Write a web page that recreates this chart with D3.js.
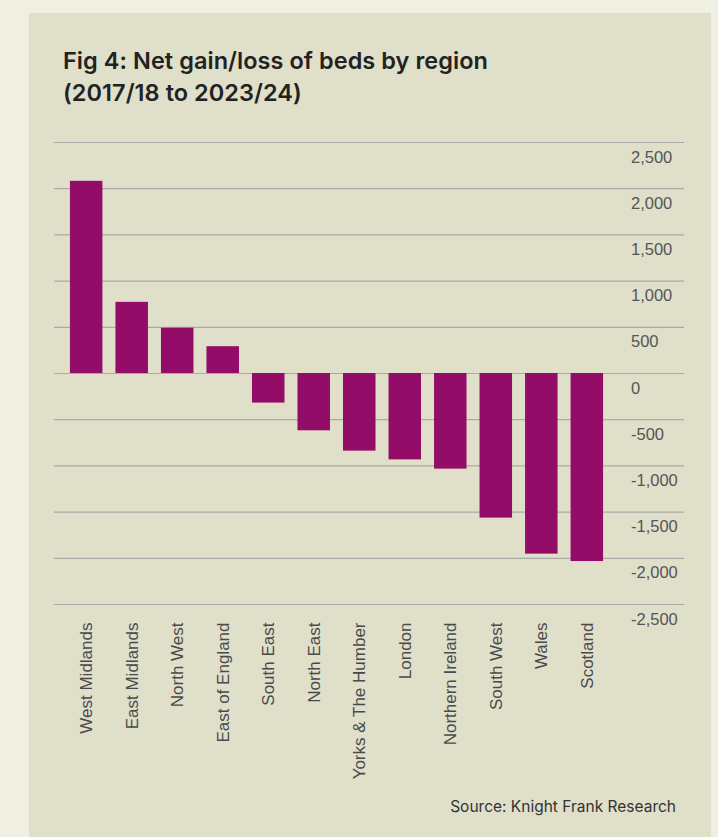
<!DOCTYPE html>
<html>
<head>
<meta charset="utf-8">
<script src="https://cdn.jsdelivr.net/npm/d3@7"></script>
<style>
	html, body { margin: 0; padding: 0; background: #f0f0e2; }
	svg { display: block; }
</style>
</head>
<body>
<div id="chart"></div>
<script>
// regions, sorted as in the source figure
var regions = ["West Midlands", "East Midlands", "North West", "East of England",
	"South East", "North East", "Yorks & The Humber", "London",
	"Northern Ireland", "South West", "Wales", "Scotland"];

// net gain/loss of beds, 2017/18 to 2023/24
var netBeds = [2080, 770, 490, 290, -320, -620, -840, -935, -1035, -1565, -1955, -2035];

var yTicks = [2500, 2000, 1500, 1000, 500, 0, -500, -1000, -1500, -2000, -2500];

var titleLines = ["Fig 4: Net gain/loss of beds by region", "(2017/18 to 2023/24)"];
var sourceText = "Source: Knight Frank Research";

var width = 718,
	height = 837;

var panel = { left: 29, top: 13, right: 711 };

var barColor = "#920c68",
	gridColor = "#a9aba6",
	tickColor = "#555555",
	labelColor = "#4a4a4a";

var data = regions.map(function(r, i) {
	return { region: r, value: netBeds[i] };
});

var svg = d3.select("#chart").append("svg")
	.attr("width", width)
	.attr("height", height);

svg.append("rect")
	.attr("x", panel.left)
	.attr("y", panel.top)
	.attr("width", panel.right - panel.left)
	.attr("height", height - panel.top)
	.attr("fill", "#dfdfca");

// title
svg.append("g").selectAll("text")
	.data(titleLines)
	.enter().append("text")
	.attr("x", 63)
	.attr("y", function(d, i) { return 69 + i * 32; })
	.attr("font-family", "Inter, 'Noto Sans', sans-serif")
	.attr("font-weight", 600)
	.attr("font-size", "23.5px")
	.attr("letter-spacing", "0.05px")
	.attr("fill", "#222")
	.text(function(d) { return d; });

var x = d3.scaleBand()
	.domain(regions)
	.range([54, 619])
	.paddingInner(0.286)
	.paddingOuter(0.35);

var y = d3.scaleLinear()
	.domain([-2500, 2500])
	.range([604, 142]);

// gridlines + tick labels on the right
var yAxis = d3.axisRight(y)
	.tickValues(yTicks)
	.tickSize(630)
	.tickPadding(0)
	.tickFormat(d3.format(","));

var gy = svg.append("g")
	.attr("transform", "translate(54,0)")
	.call(yAxis);

gy.select(".domain").remove();
gy.selectAll(".tick line")
	.attr("stroke", gridColor)
	.attr("stroke-width", 1.2);
gy.selectAll(".tick text")
	.attr("x", 577)
	.attr("dy", "20px")
	.attr("text-anchor", "start")
	.attr("font-family", "'Liberation Sans', Arial, sans-serif")
	.attr("font-size", "16.5px")
	.attr("fill", tickColor)
	.text(function(d) { return d3.format(",")(d).replace("−", "-"); });

// bars
svg.append("g").selectAll("rect")
	.data(data)
	.enter().append("rect")
	.attr("x", function(d) { return x(d.region); })
	.attr("width", x.bandwidth())
	.attr("y", function(d) { return y(Math.max(0, d.value)); })
	.attr("height", function(d) { return Math.abs(y(d.value) - y(0)); })
	.attr("fill", barColor);

// category labels, rotated
svg.append("g").selectAll("text")
	.data(regions)
	.enter().append("text")
	.attr("transform", function(d) {
		return "translate(" + (x(d) + x.bandwidth() / 2) + ",622.5) rotate(-90)";
	})
	.attr("dy", "0.36em")
	.attr("text-anchor", "end")
	.attr("font-family", "'Liberation Sans', Arial, sans-serif")
	.attr("font-size", "17px")
	.attr("fill", labelColor)
	.text(function(d) { return d; });

// source
svg.append("text")
	.attr("x", 676)
	.attr("y", 812)
	.attr("text-anchor", "end")
	.attr("font-family", "Inter, 'Noto Sans', sans-serif")
	.attr("font-size", "15.5px")
	.attr("fill", "#333")
	.text(sourceText);
</script>
</body>
</html>
